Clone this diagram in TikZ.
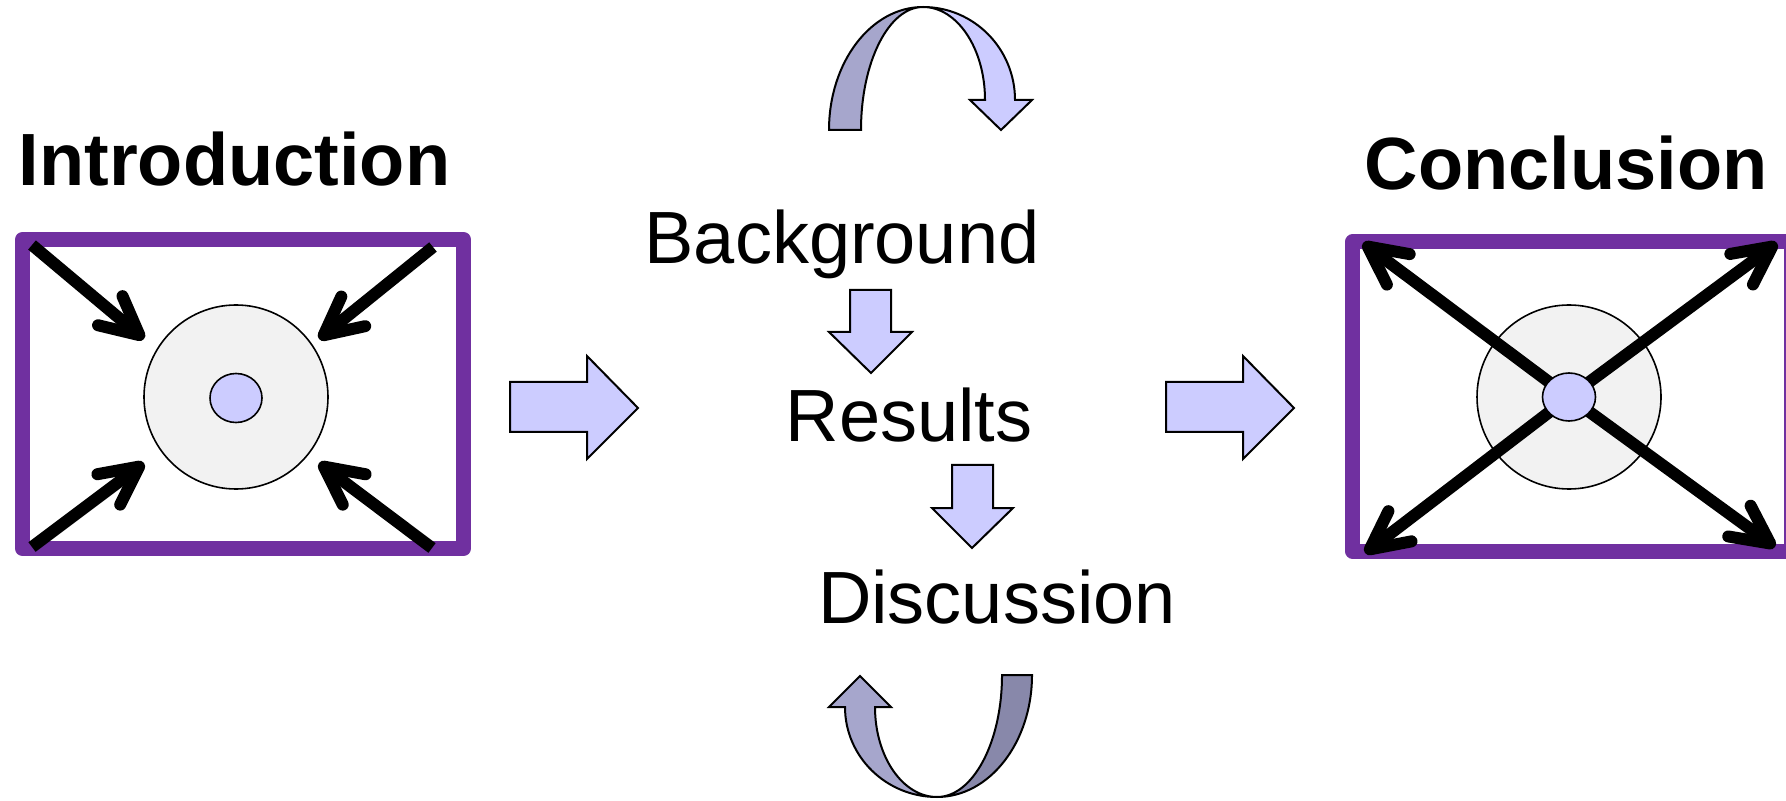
\documentclass[tikz,border=0pt]{standalone}
\usepackage{fontspec}
\setmainfont{Liberation Sans}
\usetikzlibrary{arrows.meta}
\definecolor{boxpurple}{HTML}{7030A0}
\definecolor{lav}{HTML}{CCCCFF}
\definecolor{lavmid}{HTML}{A6A6CC}
\definecolor{lavdark}{HTML}{8888AA}
\definecolor{cellgrey}{HTML}{F2F2F2}
\tikzset{
  purpleframe/.style={draw=boxpurple, line width=7.5pt, line join=round},
  cellbody/.style={draw=black, line width=0.8pt, fill=cellgrey},
  nucleus/.style={draw=black, line width=0.8pt, fill=lav},
  ray/.style={line width=6pt, -{Straight Barb[length=19pt,width=19pt,round]}},
  blockarrow/.style={draw=black, line width=1pt, fill=lav, line join=miter},
  ribbon/.style={draw=black, line width=1pt, line join=miter},
  headtext/.style={font=\fontsize{37}{44}\selectfont\bfseries, anchor=base, inner sep=0pt},
  sectlabel/.style={font=\fontsize{37}{44}\selectfont, anchor=base, inner sep=0pt},
}
\begin{document}
\begin{tikzpicture}[x=0.5pt, y=-0.5pt]
\useasboundingbox (0,0) rectangle (1786,801);
\clip (0,0) rectangle (1786,801);

% ---------- titles ----------
\node[headtext] (intro) at (234.5,186) {Introduction};
\node[headtext] (concl) at (1566,190) {Conclusion};

% ---------- Introduction box ----------
\draw[purpleframe] (22.5,239.5) rectangle (463.5,548.5);
\draw[cellbody] (236,397) circle[radius=92];
\draw[nucleus] (236,398) ellipse[x radius=26, y radius=24.5];
\coordinate (itl) at (32,245);   \coordinate (itlt) at (144,339);
\coordinate (itr) at (433,247);  \coordinate (itrt) at (319,339);
\coordinate (ibl) at (32,547);   \coordinate (iblt) at (144,463);
\coordinate (ibr) at (432,548);  \coordinate (ibrt) at (319,463);
\draw[ray] (itl) -- (itlt);
\draw[ray] (itr) -- (itrt);
\draw[ray] (ibl) -- (iblt);
\draw[ray] (ibr) -- (ibrt);

% ---------- Conclusion box ----------
\draw[purpleframe] (1352.5,242) rectangle (1791,551);
\draw[cellbody] (1569,397) circle[radius=92];
\coordinate (cc) at (1569,397);
\coordinate (ctl) at (1363,243);
\coordinate (ctr) at (1777,243);
\coordinate (cbl) at (1365,553);
\coordinate (cbr) at (1775,547);
\draw[ray] (cc) -- (ctl);
\draw[ray] (cc) -- (ctr);
\draw[ray] (cc) -- (cbl);
\draw[ray] (cc) -- (cbr);
\draw[nucleus] (cc) ellipse[x radius=26.5, y radius=24];

% ---------- block arrows ----------
\draw[blockarrow] (510,382) -- (587,382) -- (587,356) -- (638,408) -- (587,459) -- (587,432) -- (510,432) -- cycle;
\draw[blockarrow] (1166,382) -- (1243,382) -- (1243,356) -- (1294,408) -- (1243,459) -- (1243,432) -- (1166,432) -- cycle;
\draw[blockarrow] (850,290) -- (891,290) -- (891,332) -- (912,332) -- (871,373) -- (829,332) -- (850,332) -- cycle;
\draw[blockarrow] (952,465) -- (993,465) -- (993,508) -- (1013,508) -- (972,548) -- (932,508) -- (952,508) -- cycle;

% ---------- middle labels ----------
\node[sectlabel] (bg) at (842,264) {Background};
\node[sectlabel] (res) at (909,442) {Results};
\node[sectlabel] (disc) at (997,623) {Discussion};

% ---------- top curved arrow ----------
\draw[ribbon, fill=lavmid] (829,130) arc[start angle=180, end angle=270, x radius=94, y radius=123]
  arc[start angle=270, end angle=180, x radius=62, y radius=123] -- cycle;
\draw[ribbon, fill=lav] (923,7) arc[start angle=270, end angle=360, x radius=92, y radius=93]
  -- (1032,100) -- (1001,130) -- (970,100) -- (985,100)
  arc[start angle=0, end angle=-90, x radius=62, y radius=93] -- cycle;

% ---------- bottom curved arrow ----------
\draw[ribbon, fill=lavdark] (1032,675) arc[start angle=0, end angle=90, x radius=95, y radius=122]
  arc[start angle=90, end angle=0, x radius=65, y radius=122] -- cycle;
\draw[ribbon, fill=lavmid] (937,797) arc[start angle=90, end angle=180, x radius=92, y radius=90]
  -- (829,707) -- (860,676) -- (891,707) -- (875,707)
  arc[start angle=180, end angle=90, x radius=62, y radius=90] -- cycle;
\end{tikzpicture}
\end{document}
